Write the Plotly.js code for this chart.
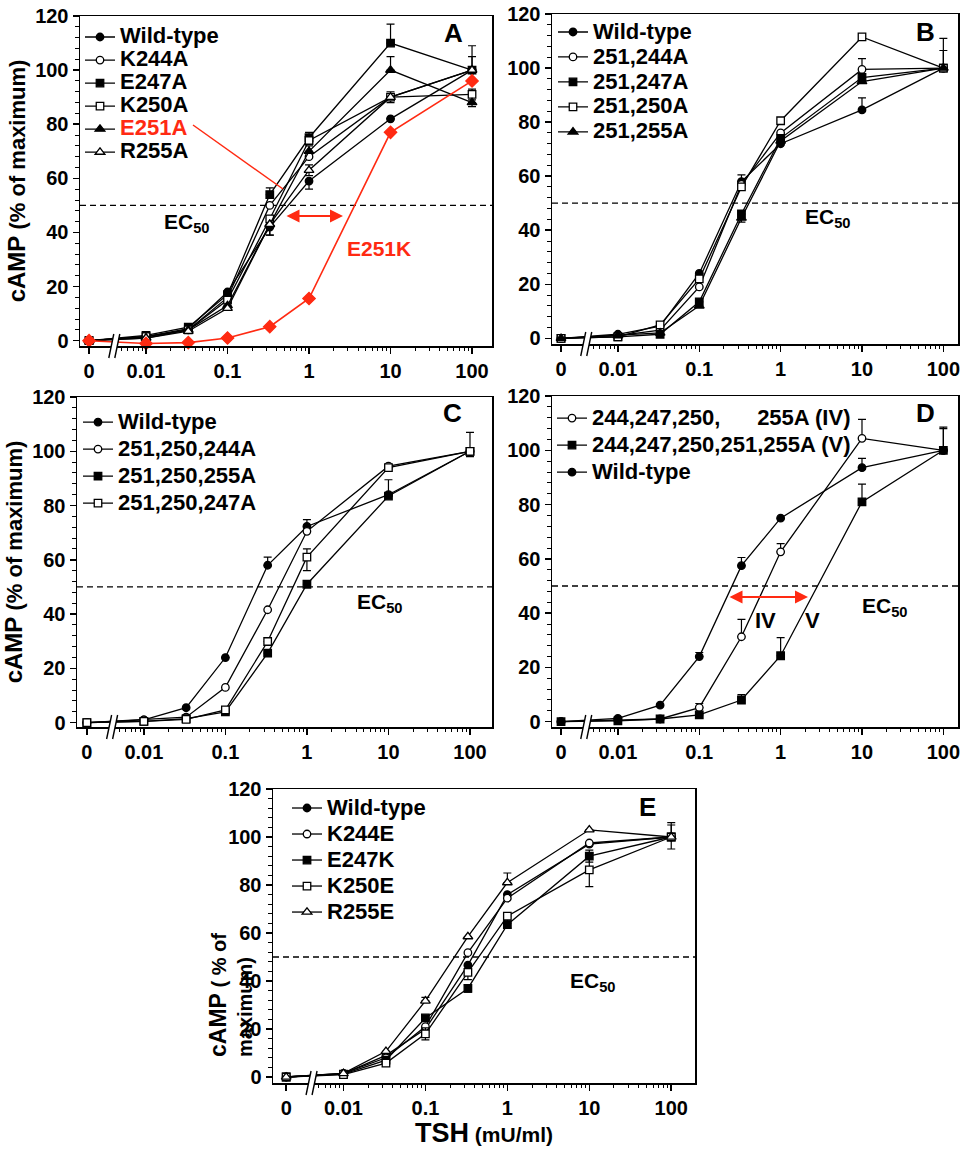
<!DOCTYPE html>
<html><head><meta charset="utf-8">
<script src="https://cdn.plot.ly/plotly-3.0.1.min.js"></script>
<style>html,body{margin:0;padding:0;background:#fff}#chart{width:962px;height:1149px}</style>
</head><body><div id="chart"></div>
<script>
// ---------- DATA ----------
const TSH = [0, 0.01, 0.033, 0.1, 0.33, 1, 10, 100];          // mU/ml
const TICK_VALS_TSH = [0, 0.01, 0.1, 1, 10, 100];
const TICK_TEXT = ['0', '0.01', '0.1', '1', '10', '100'];

// Panel A
const A_WT    = [0, 1.5, 4.5, 18, 42, 59, 82, 100];
const A_K244A = [0, 1.5, 4, 16, 50, 68, 90, 100];
const A_E247A = [0, 2, 5, 17, 54, 75, 110, 100];
const A_K250A = [0, 1.5, 4, 15, 45, 74, 90, 91];
const A_E251A = [0, 1, 4, 13, 43, 70, 100, 88];
const A_R255A = [0, 1, 3.5, 12, 43, 63, 90, 100];
const A_E251K = [0, -1, -0.7, 1, 5.2, 15.6, 77, 96];
const A_WT_UP = [0, 0, 0, 0, 0, 0, 0, 0],   A_WT_DN = [0, 0, 0, 0, 3, 3, 0, 0];
const A_K244A_UP = [0, 0, 0, 0, 0, 0, 0, 5], A_K244A_DN = [0, 0, 0, 0, 0, 0, 0, 0];
const A_E247A_UP = [0, 0, 0, 0, 2.5, 2, 7, 0], A_E247A_DN = [0, 0, 0, 0, 0, 0, 0, 0];
const A_K250A_UP = [0, 0, 0, 0, 0, 0, 2, 2], A_K250A_DN = [0, 0, 0, 0, 0, 0, 2, 2];
const A_E251A_UP = [0, 0, 0, 0, 0, 2, 5, 0], A_E251A_DN = [0, 0, 0, 0, 0, 0, 0, 1.5];
const A_R255A_UP = [0, 0, 0, 0, 0, 2, 0, 9], A_R255A_DN = [0, 0, 0, 0, 4, 2, 0, 0];

// Panel B
const B_WT   = [0, 1.5, 4.5, 24, 58, 72, 84.5, 100];
const B_244A = [0, 1, 3, 19, 57, 76, 99.5, 100];
const B_247A = [0, 0.5, 1.5, 13.5, 46, 74, 96.5, 100];
const B_250A = [0, 0.5, 5, 22, 56, 80.5, 111.5, 100];
const B_255A = [0, 1, 2, 12, 44.5, 73, 95, 100];
const B_WT_UP = [0, 0, 0, 0, 2.5, 0, 4.5, 0];
const B_244A_UP = [0, 0, 0, 0, 0, 0, 4, 11];
const B_247A_UP = [0, 0, 0, 0, 0, 0, 0, 6.5], B_247A_DN = [0, 0, 0, 0, 3, 0, 0, 0];

// Panel C
const C_WT   = [0, 1, 5.5, 24, 58, 72.3, 84, 100];
const C_244A = [0, 1, 2, 13, 41.6, 70.5, 94.5, 100];
const C_255A = [0, 0.5, 1.5, 4, 25.6, 51, 83.5, 100];
const C_247A = [0, 0.5, 1.2, 4.7, 29.9, 61, 94, 100];
const C_WT_UP = [0, 0, 0, 0, 3, 2.5, 0, 0];
const C_255A_UP = [0, 0, 0, 0, 0, 0, 6, 0];
const C_247A_UP = [0, 0, 0, 0, 0, 3, 0, 7], C_247A_DN = [0, 0, 0, 0, 0, 5, 0, 2];

// Panel D
const D_IV = [0, 0.5, 1, 5.2, 31.3, 62.6, 104.4, 100];
const D_V  = [0, 0.3, 1, 2.5, 8, 24.3, 81, 100];
const D_WT = [0, 1.2, 6.1, 24, 57.5, 75, 93.6, 100];
const D_IV_UP = [0, 0, 0, 1.5, 6.4, 3, 7, 0];
const D_V_UP  = [0, 0, 0, 0, 2, 6.7, 6.5, 8.5];
const D_WT_UP = [0, 0, 0, 1.5, 3, 0, 3.4, 8];

// Panel E
const E_WT    = [0, 1.4, 9, 20, 46.6, 76, 97, 100];
const E_K244E = [0, 1.5, 8, 21, 51.8, 74.5, 97.5, 100];
const E_E247K = [0, 1.2, 7, 24.6, 36.9, 63.5, 92, 100];
const E_K250E = [0, 1, 5.8, 18, 43.6, 67, 86.3, 100];
const E_R255E = [0, 1.5, 10.7, 31.7, 58.5, 81, 103, 100];
const E_E247K_UP = [0, 0, 0, 0, 1.5, 1.5, 2.5, 6], E_E247K_DN = [0, 0, 0, 0, 1.5, 1.5, 2.5, 0];
const E_K250E_UP = [0, 0, 0, 2.5, 3, 0, 7, 5],   E_K250E_DN = [0, 0, 0, 2.5, 3, 3, 7, 5];
const E_R255E_UP = [0, 0, 0, 1.5, 0, 4, 0, 0];

// ---------- LAYOUT HELPERS ----------
const W = 962, H = 1149;
const FONT = 'Arial, "Liberation Sans", Helvetica, sans-serif';
const ZERO_POS = 0.002;            // dose 0 drawn left of the axis break
const BREAK_LOG = -2.42;           // axis break position (log10)
const xpos = v => (v === 0 ? ZERO_POS : v);
const X = TSH.map(xpos);
const MINOR = [];
for (let e = -3; e <= 1; e++) for (let k = 2; k <= 9; k++) { const v = k * Math.pow(10, e); if (v >= 0.0049) MINOR.push(v); }
const nz = a => (a ? a.map(v => (v ? v : null)) : null);
const px = p => p / W, py = p => 1 - p / H;

const PANELS = {
  A: {n: '',  px: [80, 492],  py: [16, 346],  xr: [-2.81, 2.245], yr: [-1.95, 120], leg: {l: 80,  t: 20.5, fs: 15.4}},
  B: {n: '2', px: [552, 958], py: [14, 344],  xr: [-2.81, 2.18],  yr: [-2.1, 120],  leg: {l: 553, t: 14.5, fs: 16.9}},
  C: {n: '3', px: [77, 492],  py: [397, 727], xr: [-2.82, 2.27],  yr: [-1.6, 120],  leg: {l: 78,  t: 403.5, fs: 18.5}},
  D: {n: '4', px: [552, 958], py: [396, 727], xr: [-2.81, 2.18],  yr: [-1.95, 120], leg: {l: 552, t: 399.5, fs: 18.5}},
  E: {n: '5', px: [273, 695], py: [789, 1083], xr: [-2.86, 2.29], yr: [-2.5, 120],  leg: {l: 287, t: 790, fs: 17.7}}
};

const nm = (t, c) => '<span style="font-size:22px' + (c ? ';color:' + c : '') + '">' + t + '</span>';
const RED = '#ff2a12';

const SERIES = [
  {p: 'A', name: nm('Wild-type'), y: A_WT, up: A_WT_UP, dn: A_WT_DN, sym: 'circle', open: false},
  {p: 'A', name: nm('K244A'), y: A_K244A, up: A_K244A_UP, dn: A_K244A_DN, sym: 'circle', open: true},
  {p: 'A', name: nm('E247A'), y: A_E247A, up: A_E247A_UP, dn: A_E247A_DN, sym: 'square', open: false},
  {p: 'A', name: nm('K250A'), y: A_K250A, up: A_K250A_UP, dn: A_K250A_DN, sym: 'square', open: true},
  {p: 'A', name: nm('E251A', RED), y: A_E251A, up: A_E251A_UP, dn: A_E251A_DN, sym: 'triangle-up', open: false},
  {p: 'A', name: nm('R255A'), y: A_R255A, up: A_R255A_UP, dn: A_R255A_DN, sym: 'triangle-up', open: true},
  {p: 'A', name: 'E251K', y: A_E251K, sym: 'diamond', open: false, color: RED, hide: true},

  {p: 'B', name: nm('Wild-type'), y: B_WT, up: B_WT_UP, sym: 'circle', open: false},
  {p: 'B', name: nm('251,244A'), y: B_244A, up: B_244A_UP, sym: 'circle', open: true},
  {p: 'B', name: nm('251,247A'), y: B_247A, up: B_247A_UP, dn: B_247A_DN, sym: 'square', open: false},
  {p: 'B', name: nm('251,250A'), y: B_250A, sym: 'square', open: true},
  {p: 'B', name: nm('251,255A'), y: B_255A, sym: 'triangle-up', open: false},

  {p: 'C', name: nm('Wild-type'), y: C_WT, up: C_WT_UP, sym: 'circle', open: false},
  {p: 'C', name: nm('251,250,244A'), y: C_244A, sym: 'circle', open: true},
  {p: 'C', name: nm('251,250,255A'), y: C_255A, up: C_255A_UP, sym: 'square', open: false},
  {p: 'C', name: nm('251,250,247A'), y: C_247A, up: C_247A_UP, dn: C_247A_DN, sym: 'square', open: true},

  {p: 'D', name: nm('244,247,250,\u00a0\u00a0\u00a0\u00a0\u00a0 255A (IV)'), y: D_IV, up: D_IV_UP, sym: 'circle', open: true},
  {p: 'D', name: nm('244,247,250,251,255A (V)'), y: D_V, up: D_V_UP, sym: 'square', open: false},
  {p: 'D', name: nm('Wild-type'), y: D_WT, up: D_WT_UP, sym: 'circle', open: false},

  {p: 'E', name: nm('Wild-type'), y: E_WT, sym: 'circle', open: false},
  {p: 'E', name: nm('K244E'), y: E_K244E, sym: 'circle', open: true},
  {p: 'E', name: nm('E247K'), y: E_E247K, up: E_E247K_UP, dn: E_E247K_DN, sym: 'square', open: false},
  {p: 'E', name: nm('K250E'), y: E_K250E, up: E_K250E_UP, dn: E_K250E_DN, sym: 'square', open: true},
  {p: 'E', name: nm('R255E'), y: E_R255E, up: E_R255E_UP, sym: 'triangle-up', open: true}
];

const traces = SERIES.map(s => {
  const P = PANELS[s.p];
  const col = s.color || '#000';
  const size = s.sym === 'triangle-up' ? 8.5 : (s.sym === 'diamond' ? 9.5 : 7.5);
  const t = {
    type: 'scatter', mode: 'lines+markers', name: s.name,
    x: X, y: s.y, xaxis: 'x' + P.n, yaxis: 'y' + P.n,
    legend: 'legend' + P.n, showlegend: !s.hide,
    line: {color: col, width: s.color ? 1.6 : 1.3},
    marker: {symbol: s.sym, size: size, color: s.open ? '#fff' : col, line: {color: col, width: 1.3}},
    cliponaxis: false
  };
  if (s.up || s.dn) {
    t.error_y = {type: 'data', symmetric: false, array: nz(s.up) || X.map(() => null),
      arrayminus: nz(s.dn) || X.map(() => null), color: '#000', thickness: 1.2, width: 4};
  }
  return t;
});

const layout = {
  width: W, height: H, margin: {l: 0, r: 0, t: 0, b: 0},
  paper_bgcolor: '#fff', plot_bgcolor: '#fff',
  font: {family: FONT, color: '#000'},
  shapes: [], annotations: []
};

const tickFont = {family: FONT, size: 20, color: '#000', weight: 'bold'};
Object.keys(PANELS).forEach(k => {
  const P = PANELS[k];
  layout['xaxis' + P.n] = {
    type: 'log', domain: [px(P.px[0]), px(P.px[1])], range: P.xr, anchor: 'y' + P.n,
    tickmode: 'array', tickvals: TICK_VALS_TSH.map(xpos), ticktext: TICK_TEXT,
    ticks: 'outside', ticklen: 6, tickwidth: 1.5, tickcolor: '#000',
    showline: true, linecolor: '#000', linewidth: 1.5, mirror: true,
    showgrid: false, zeroline: false, tickfont: tickFont,
    minor: {tickmode: 'array', tickvals: MINOR, ticks: 'outside', ticklen: 3.5, tickwidth: 1, tickcolor: '#000', showgrid: false}
  };
  layout['yaxis' + P.n] = {
    domain: [py(P.py[1]), py(P.py[0])], range: P.yr, anchor: 'x' + P.n,
    tickmode: 'linear', tick0: 0, dtick: 20,
    ticks: 'outside', ticklen: 6, tickwidth: 1.5, tickcolor: '#000',
    showline: true, linecolor: '#000', linewidth: 1.5, mirror: true,
    showgrid: false, zeroline: false, tickfont: tickFont,
    minor: {dtick: 4, tick0: 0, ticks: 'outside', ticklen: 3.5, tickwidth: 1, tickcolor: '#000', showgrid: false}
  };
  layout['legend' + P.n] = {
    x: px(P.leg.l), y: py(P.leg.t), xanchor: 'left', yanchor: 'top',
    bgcolor: 'rgba(0,0,0,0)', borderwidth: 0, tracegroupgap: 0, itemwidth: 30,
    font: {family: FONT, size: P.leg.fs, color: '#000', weight: 'bold'}
  };
  // EC50 reference line
  layout.shapes.push({type: 'line', xref: 'x' + P.n + ' domain', yref: 'y' + P.n, x0: 0, x1: 1, y0: 50, y1: 50,
    line: {color: '#000', width: 1.3, dash: '6px,4px'}, layer: 'below'});
  // axis break marks
  const bx = P.px[0] + (BREAK_LOG - P.xr[0]) / (P.xr[1] - P.xr[0]) * (P.px[1] - P.px[0]);
  const by = P.py[1];
  layout.shapes.push({type: 'path', xref: 'paper', yref: 'paper', layer: 'above',
    path: 'M' + px(bx - 3) + ',' + py(by + 12) + 'L' + px(bx + 2) + ',' + py(by - 12) + 'L' + px(bx + 8) + ',' + py(by - 12) + 'L' + px(bx + 3) + ',' + py(by + 12) + 'Z',
    fillcolor: '#fff', line: {width: 0}});
  [0, 6].forEach(d => layout.shapes.push({type: 'line', xref: 'paper', yref: 'paper', layer: 'above',
    x0: px(bx - 3 + d), y0: py(by + 12), x1: px(bx + 2 + d), y1: py(by - 12), line: {color: '#000', width: 1.4}}));
});

const yTitle = {text: '<span style="font-size:24px">cAMP</span> (% of maximum)', font: {family: FONT, size: 22, color: '#000', weight: 'bold'}, standoff: 3};
layout.yaxis.title = yTitle;
layout.yaxis3.title = yTitle;
layout.xaxis5.title = {text: '<span style="font-size:27px">TSH</span> (mU/ml)', font: {family: FONT, size: 21, color: '#000', weight: 'bold'}, standoff: 8};

const ann = (t, x, y, o) => Object.assign({text: t, x: px(x), y: py(y), xref: 'paper', yref: 'paper', showarrow: false,
  xanchor: 'center', yanchor: 'middle', font: {family: FONT, size: 21, color: '#000', weight: 'bold'}}, o || {});
const big = {font: {family: FONT, size: 26, color: '#000', weight: 'bold'}};
const ec = '<b>EC<sub>50</sub></b>';
layout.annotations.push(
  ann('A', 453, 33, big), ann('B', 925, 32, big), ann('C', 452, 413, big), ann('D', 925, 413, big), ann('E', 647, 807, big),
  ann(ec, 187, 223), ann(ec, 828, 218), ann(ec, 380, 603), ann(ec, 885, 607), ann(ec, 593, 982),
  ann('E251K', 379, 248, {font: {family: FONT, size: 21, color: RED, weight: 'bold'}}),
  ann('IV', 765, 620, {font: {family: FONT, size: 22, color: '#000', weight: 'bold'}}),
  ann('V', 812, 620, {font: {family: FONT, size: 22, color: '#000', weight: 'bold'}}),
  ann('<span style="font-size:23px">cAMP</span> ( % of<br>maximum)', 230, 995,
    {textangle: -90, align: 'left', font: {family: FONT, size: 20, color: '#000', weight: 'bold'}}),
  // red double-headed arrows
  {text: '', xref: 'paper', yref: 'paper', x: px(343), y: py(216), ax: -58, ay: 0, showarrow: true,
    arrowside: 'end+start', arrowhead: 2, arrowsize: 1.3, arrowwidth: 2, arrowcolor: RED},
  {text: '', xref: 'paper', yref: 'paper', x: px(808), y: py(597), ax: -80, ay: 0, showarrow: true,
    arrowside: 'end+start', arrowhead: 2, arrowsize: 1.3, arrowwidth: 2, arrowcolor: RED}
);
// pointer from E251A legend entry to its curve
layout.shapes.push({type: 'line', xref: 'paper', yref: 'paper', x0: px(193), y0: py(125), x1: px(283), y1: py(189),
  line: {color: RED, width: 1.5}, layer: 'above'});

Plotly.newPlot('chart', traces, layout, {staticPlot: true, displayModeBar: false});
</script></body></html>
